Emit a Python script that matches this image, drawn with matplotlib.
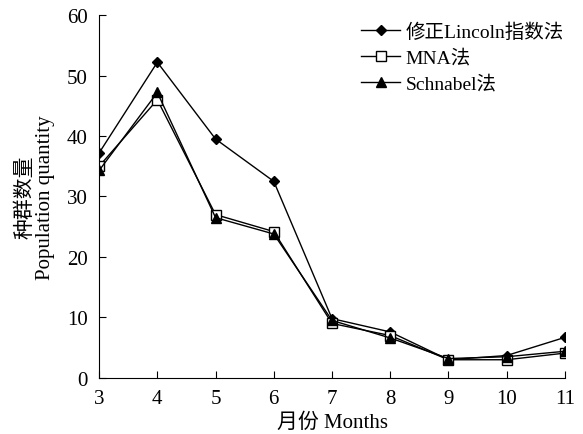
import matplotlib.pyplot as plt

plt.rcParams['font.family'] = ['Liberation Serif', 'Noto Sans CJK SC']

months = [3, 4, 5, 6, 7, 8, 9, 10, 11]
lincoln = [37.2, 52.2, 39.5, 32.5, 9.8, 7.6, 3.0, 3.7, 6.7]
mna = [35.0, 46.0, 27.0, 24.2, 9.0, 7.0, 3.0, 3.0, 4.1]
schnabel = [34.3, 47.2, 26.5, 23.8, 9.5, 6.6, 3.2, 3.5, 4.4]

fig = plt.figure(figsize=(5.83, 4.35), dpi=100)
ax = fig.add_axes([0.170, 0.129, 0.799, 0.834])

ax.plot(months, lincoln, color='black', lw=1, marker='D', ms=5.5,
        label='修正Lincoln指数法')
ax.plot(months, mna, color='black', lw=1, marker='s', ms=6.5,
        mfc='white', mew=1, label='MNA法')
ax.plot(months, schnabel, color='black', lw=1, marker='^', ms=7,
        label='Schnabel法')

ax.set_xlim(3, 11)
ax.set_ylim(0, 60)
ax.set_xticks(months)
ax.set_yticks(range(0, 61, 10))
ax.tick_params(direction='in', length=5, labelsize=15, pad=8)
ax.spines['top'].set_visible(False)
ax.spines['right'].set_visible(False)

ax.set_xlabel('月份 Months', fontsize=15, labelpad=3)
ax.set_ylabel('种群数量\nPopulation quantity', fontsize=15, labelpad=9,
              linespacing=1.0)

ax.legend(loc='upper right', bbox_to_anchor=(1.015, 1.0), frameon=False,
          fontsize=14, handlelength=2.0, handletextpad=0.3,
          labelspacing=0.4, borderaxespad=0)

plt.savefig('out.png')
plt.close(fig)
